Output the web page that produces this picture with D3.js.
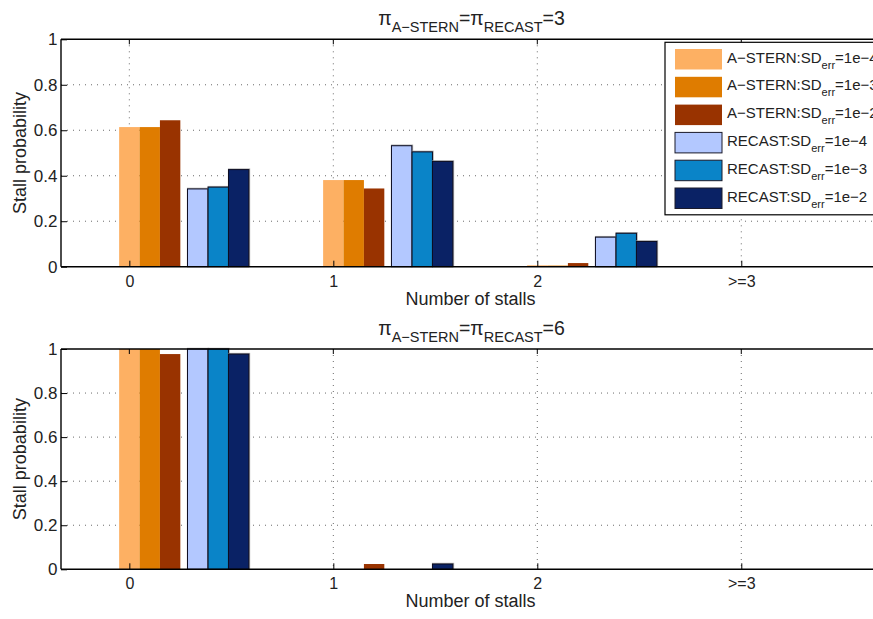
<!DOCTYPE html>
<html>
<head>
<meta charset="utf-8">
<script src="https://cdn.jsdelivr.net/npm/d3@7"></script>
<style>
  html, body { margin: 0; padding: 0; background: #fff; }
  svg { display: block; }
  text { font-family: "Liberation Sans", Arial, Helvetica, sans-serif; fill: #222; }
</style>
</head>
<body>
<svg id="chart" width="873" height="619"></svg>
<script>
// ---------------- DATA ----------------
const categories = ["0", "1", "2", ">=3"];
const yTicks = [0, 0.2, 0.4, 0.6, 0.8, 1];
const seriesMethods = ["A\u2212STERN", "A\u2212STERN", "A\u2212STERN", "RECAST", "RECAST", "RECAST"];
const seriesErr = ["1e\u22124", "1e\u22123", "1e\u22122", "1e\u22124", "1e\u22123", "1e\u22122"];
const panelPi = ["3", "6"];

// pi = 3
const aStern1e4Pi3 = [0.614, 0.381, 0.006, 0];
const aStern1e3Pi3 = [0.614, 0.381, 0.005, 0];
const aStern1e2Pi3 = [0.644, 0.344, 0.016, 0];
const recast1e4Pi3 = [0.342, 0.532, 0.130, 0];
const recast1e3Pi3 = [0.350, 0.505, 0.147, 0];
const recast1e2Pi3 = [0.427, 0.463, 0.111, 0];
// pi = 6
const aStern1e4Pi6 = [1.0, 0, 0, 0];
const aStern1e3Pi6 = [1.0, 0, 0, 0];
const aStern1e2Pi6 = [0.977, 0.024, 0, 0];
const recast1e4Pi6 = [1.0, 0, 0, 0];
const recast1e3Pi6 = [1.0, 0, 0, 0];
const recast1e2Pi6 = [0.977, 0.024, 0, 0];

// ---------------- STYLE / LAYOUT ----------------
const colors = ["#fdb063", "#df7c00", "#993300", "#b3c8ff", "#0a84c8", "#0a2265"];
const outlined = [false, false, false, true, true, true];
const seriesOffset = [0, 0.1, 0.2, 0.335, 0.436, 0.536];
const barW = 0.1;

const panels = [
  { pi: panelPi[0], top: 39.3, bottom: 266.7,
    series: [aStern1e4Pi3, aStern1e3Pi3, aStern1e2Pi3, recast1e4Pi3, recast1e3Pi3, recast1e2Pi3] },
  { pi: panelPi[1], top: 349, bottom: 569.3,
    series: [aStern1e4Pi6, aStern1e3Pi6, aStern1e2Pi6, recast1e4Pi6, recast1e3Pi6, recast1e2Pi6] }
];

const svg = d3.select("#chart");
const left = 61, right = 880;
const x = d3.scaleLinear().domain([-0.335, 3.68]).range([left, right]);

panels.forEach((p, pi) => {
  const y = d3.scaleLinear().domain([0, 1]).range([p.bottom, p.top]);
  const g = svg.append("g");

  // grid (dotted)
  g.selectAll("line.hgrid").data(yTicks.filter(t => t > 0 && t < 1)).enter().append("line")
    .attr("x1", left).attr("x2", right).attr("y1", d => y(d)).attr("y2", d => y(d))
    .attr("stroke", "#444").attr("stroke-width", 0.8).attr("stroke-dasharray", "1,5");
  g.selectAll("line.vgrid").data(categories).enter().append("line")
    .attr("x1", (d, i) => x(i)).attr("x2", (d, i) => x(i))
    .attr("y1", p.top).attr("y2", p.bottom)
    .attr("stroke", "#444").attr("stroke-width", 0.8).attr("stroke-dasharray", "1,5");

  // bars
  p.series.forEach((vals, s) => {
    const bw = x(barW) - x(0);
    if (outlined[s]) {
      g.selectAll(null).data(vals).enter().append("rect")
        .attr("x", (d, i) => x(i + seriesOffset[s] - barW / 2) - 0.5)
        .attr("y", d => y(d) - 1.2)
        .attr("width", bw + 1.8)
        .attr("height", d => Math.max(0, y(0) - y(d) + 1.2))
        .attr("fill", "#9a9a9a")
        .attr("opacity", d => d > 0 ? 0.8 : 0);
    }
    g.selectAll(null).data(vals).enter().append("rect")
      .attr("x", (d, i) => x(i + seriesOffset[s] - barW / 2))
      .attr("y", d => y(d))
      .attr("width", bw)
      .attr("height", d => Math.max(0, y(0) - y(d)))
      .attr("fill", colors[s])
      .attr("stroke", outlined[s] ? "#0b0b20" : "none")
      .attr("stroke-width", outlined[s] ? 1 : 0)
      .attr("opacity", d => d > 0 ? 1 : 0);
  });

  // axes box
  g.append("line").attr("x1", left).attr("x2", right).attr("y1", p.bottom).attr("y2", p.bottom)
    .attr("stroke", "#000").attr("stroke-width", 1.4);
  g.append("line").attr("x1", left).attr("x2", right).attr("y1", p.top).attr("y2", p.top)
    .attr("stroke", "#000").attr("stroke-width", 1.4);
  g.append("line").attr("x1", left).attr("x2", left).attr("y1", p.top).attr("y2", p.bottom)
    .attr("stroke", "#000").attr("stroke-width", 1.4);

  // y axis ticks + labels
  const yAxis = d3.axisLeft(y).tickValues(yTicks).tickFormat(d3.format("~g")).tickSizeInner(-6).tickSizeOuter(0).tickPadding(3.5);
  const ya = g.append("g").attr("transform", `translate(${left},0)`).call(yAxis);
  ya.select(".domain").remove();
  ya.selectAll("line").attr("stroke", "#000").attr("stroke-width", 1);
  ya.selectAll("text").style("font-size", "17px").attr("fill", "#222")
    .attr("font-family", "Liberation Sans, Arial, sans-serif");

  // x axis ticks + labels
  const xAxis = d3.axisBottom(x).tickValues(d3.range(categories.length))
    .tickFormat(i => categories[i]).tickSizeInner(-6).tickSizeOuter(0).tickPadding(8.5);
  const xa = g.append("g").attr("transform", `translate(0,${p.bottom})`).call(xAxis);
  xa.select(".domain").remove();
  xa.selectAll("line").attr("stroke", "#000").attr("stroke-width", 1);
  xa.selectAll("text").style("font-size", "16px").attr("fill", "#222")
    .attr("font-family", "Liberation Sans, Arial, sans-serif");
  // top ticks
  g.selectAll(null).data(categories).enter().append("line")
    .attr("x1", (d, i) => x(i)).attr("x2", (d, i) => x(i))
    .attr("y1", p.top).attr("y2", p.top + 5).attr("stroke", "#000");

  // x label
  g.append("text").attr("x", (left + right) / 2).attr("y", p.bottom + 38)
    .attr("text-anchor", "middle").attr("font-size", 18).text("Number of stalls");
  // y label
  g.append("text")
    .attr("transform", `translate(26,${(p.top + p.bottom) / 2}) rotate(-90)`)
    .attr("text-anchor", "middle").attr("font-size", 18).text("Stall probability");

  // title
  const t = g.append("text").attr("x", (left + right) / 2 + 1).attr("y", p.top - 14)
    .attr("text-anchor", "middle").attr("font-size", 19.5);
  t.append("tspan").text("\u03c0");
  t.append("tspan").attr("dy", 6.5).attr("font-size", 14.5).text("A\u2212STERN");
  t.append("tspan").attr("dy", -6.5).text("=\u03c0");
  t.append("tspan").attr("dy", 6.5).attr("font-size", 14.5).text("RECAST");
  t.append("tspan").attr("dy", -6.5).text("=" + p.pi);

  // legend on top panel
  if (pi === 0) {
    const lg = svg.append("g");
    lg.append("rect").attr("x", 665).attr("y", 42.3).attr("width", 240).attr("height", 172.5)
      .attr("fill", "#fff").attr("stroke", "#000").attr("stroke-width", 1.2);
    seriesMethods.forEach((m, s) => {
      const ty = 49 + s * 27.8;
      lg.append("rect").attr("x", 675).attr("y", ty).attr("width", 47).attr("height", 20.5)
        .attr("fill", colors[s])
        .attr("stroke", outlined[s] ? "#1a1a2a" : "none").attr("stroke-width", 1);
      const tx = lg.append("text").attr("x", 727).attr("y", ty + 13.5).attr("font-size", 15);
      tx.append("tspan").text(m + ":SD");
      tx.append("tspan").attr("dy", 6).attr("font-size", 11).text("err");
      tx.append("tspan").attr("dy", -6).text("=" + seriesErr[s]);
    });
  }
});
</script>
</body>
</html>
